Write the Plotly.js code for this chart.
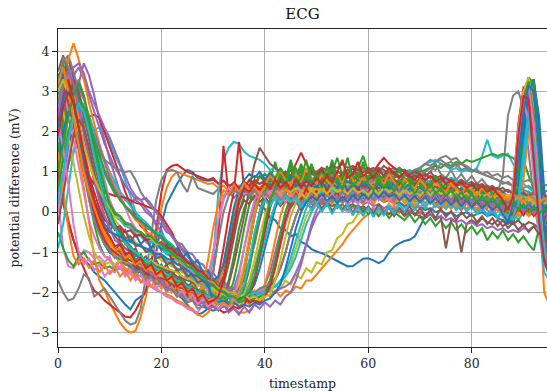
<!DOCTYPE html>
<html>
<head>
<meta charset="utf-8">
<script src="https://cdn.plot.ly/plotly-3.0.1.min.js"></script>
<style>html,body{margin:0;padding:0;background:#fff;}#chart{width:547px;height:391px;}</style>
</head>
<body>
<div id="chart"></div>
<script>
// x: timestamp index of each sample
const timestamps = Array.from({length: 96}, (_, i) => i);

// ECG traces (potential difference, mV)
const ecg00 = [0.8,0.2,-0.3,-0.7,-1.0,-1.2,-1.3,-1.5,-1.6,-1.7,
 -1.85,-2.0,-2.15,-2.3,-2.42,-2.2,-2.1,-2.0,-1.6,-1.0,
 -0.3,0.2,0.45,0.7,0.9,1.05,1.0,0.85,0.8,0.78,
 0.8,0.72,0.78,0.66,0.7,0.58,0.52,0.36,0.33,0.15,
 0.08,-0.14,-0.2,-0.4,-0.45,-0.6,-0.55,-0.74,-0.8,-0.92,
 -0.98,-1.02,-1.08,-1.15,-1.2,-1.28,-1.35,-1.34,-1.25,-1.16,
 -1.15,-1.2,-1.27,-1.2,-1.0,-0.86,-0.78,-0.72,-0.69,-0.6,
 -0.36,-0.1,0.05,0.18,0.1,0.25,0.12,0.3,0.15,0.28,
 0.1,0.35,0.2,0.32,0.15,0.3,0.05,-0.15,0.3,1.5,
 2.8,3.2,2.6,1.0,-0.6,-1.2];
const ecg01 = [3.0,3.6,3.2,2.4,1.5,0.6,-0.3,-1.1,-1.7,-1.95,
 -2.25,-2.5,-2.75,-2.92,-3.0,-2.95,-2.6,-2.1,-1.4,-0.6,
 0.1,0.6,0.88,1.0,0.95,0.9,0.85,0.8,0.75,0.7,
 0.72,0.6,0.66,0.52,0.6,0.45,0.56,0.4,0.52,0.35,
 0.5,0.32,0.55,0.4,0.62,0.45,0.66,0.5,0.42,0.64,
 0.5,0.68,0.45,0.6,0.38,0.55,0.7,0.5,0.45,0.58,
 0.4,0.62,0.35,0.48,0.55,0.3,0.42,0.5,0.28,0.45,
 0.35,0.5,0.28,0.52,0.42,0.25,0.4,0.48,0.22,0.4,
 0.3,0.18,0.42,0.25,0.12,0.3,0.38,0.15,0.28,0.35,
 0.12,0.35,0.2,0.1,0.32,0.15];
const ecg02 = [2.8,3.5,3.3,2.6,1.8,1.0,0.3,-0.3,-0.8,-1.1,
 -1.15,-1.4,-1.2,-1.5,-1.35,-1.6,-1.4,-1.7,-1.5,-1.75,
 -1.6,-1.85,-1.7,-1.95,-1.8,-2.05,-1.95,-2.2,-2.05,-2.25,
 -2.1,-1.8,-1.4,-0.9,-0.3,0.2,0.6,0.8,0.9,0.85,
 0.95,0.8,1.25,0.75,0.85,0.7,1.1,0.75,0.9,0.8,
 0.7,0.85,0.75,1.2,0.65,0.75,0.7,0.8,0.7,0.75,
 0.55,0.78,0.5,0.82,0.6,0.75,0.48,0.7,0.45,0.68,
 0.72,0.4,0.65,0.38,0.62,0.48,0.35,0.66,0.3,0.55,
 0.42,0.3,0.6,0.38,0.25,0.52,0.35,0.2,0.45,0.3,
 0.22,0.5,0.35,0.18,0.4,0.25];
const ecg03 = [1.0,0.4,-0.2,-0.7,-1.1,-1.4,-1.7,-1.95,-2.05,-2.2,
 -2.3,-2.4,-2.5,-2.6,-2.62,-2.45,-2.2,-1.95,-1.3,-0.4,
 0.5,1.05,1.15,1.18,1.1,1.0,0.95,0.9,0.85,0.8,
 0.85,0.7,0.78,0.62,0.74,0.6,0.7,0.52,0.66,0.5,
 0.62,0.45,0.58,0.7,0.5,0.62,0.4,0.6,0.48,0.36,
 0.55,0.48,0.7,0.45,0.6,0.72,0.58,0.5,0.75,0.62,
 0.8,0.65,0.92,0.75,1.0,0.8,0.72,0.95,0.88,0.7,
 0.85,0.68,0.78,0.52,0.7,0.48,0.65,0.42,0.6,0.4,
 0.55,0.35,0.5,0.3,0.45,0.25,0.1,-0.2,0.6,2.0,
 3.0,2.6,1.2,-0.4,-1.2,-1.5];
const ecg04 = [0.2,0.8,1.6,2.5,3.2,3.7,3.4,2.9,2.3,1.8,
 1.3,0.9,0.5,0.3,0.2,0.35,0.3,0.1,-0.05,-0.35,
 -0.45,-0.8,-0.85,-1.2,-1.25,-1.55,-1.6,-1.95,-2.0,-2.25,
 -2.2,-2.42,-2.25,-2.45,-2.3,-2.1,-1.5,-0.8,-0.1,0.4,
 0.7,0.85,0.7,0.95,0.78,0.88,0.65,0.82,0.72,0.6,
 0.68,0.55,0.72,0.5,0.62,0.45,0.64,0.5,0.42,0.55,
 0.45,0.32,0.5,0.3,0.42,0.25,0.45,0.3,0.22,0.35,
 0.28,0.15,0.32,0.18,0.25,0.1,0.3,0.15,0.05,0.22,
 0.1,0.02,0.2,0.05,-0.05,0.12,-0.05,-0.2,-0.3,0.8,
 2.3,3.3,2.9,1.4,-0.2,-0.9];
const ecg05 = [2.5,3.4,3.85,3.3,2.6,1.9,1.3,0.8,0.4,0.1,
 -0.25,-0.35,-0.7,-0.75,-1.0,-0.9,-1.2,-1.1,-1.35,-1.2,
 -1.45,-1.3,-1.6,-1.4,-1.7,-1.55,-1.8,-1.65,-1.95,-1.8,
 -2.05,-1.9,-2.1,-2.0,-2.12,-1.88,-1.7,-1.3,-0.8,-0.2,
 0.3,0.6,0.85,1.05,0.9,1.15,0.92,1.1,0.85,1.05,
 0.82,1.08,0.8,1.0,0.75,0.98,0.7,0.92,0.78,0.65,
 0.88,0.62,0.82,0.58,0.78,0.55,0.72,0.5,0.7,0.48,
 0.65,0.45,0.6,0.42,0.58,0.35,0.55,0.3,0.5,0.32,
 0.48,0.28,0.45,0.22,0.42,0.25,0.4,0.18,0.38,0.2,
 0.35,0.15,0.32,0.2,0.3,0.12];
const ecg06 = [0.3,-0.9,-1.35,-1.4,-1.2,-0.95,-1.0,-1.15,-1.1,-1.25,
 -1.1,-1.45,-1.2,-1.55,-1.3,-1.6,-1.4,-1.75,-1.5,-1.8,
 -1.6,-1.9,-1.75,-2.0,-1.85,-2.15,-1.95,-2.25,-2.0,-1.6,
 -1.0,-0.3,0.3,0.62,0.48,0.66,0.42,0.6,0.35,0.55,
 0.3,0.5,0.38,0.6,0.32,0.52,0.4,0.25,0.5,0.36,
 0.58,0.4,0.62,0.45,0.5,0.68,0.48,0.6,0.75,0.52,
 0.65,0.78,0.55,0.72,0.6,0.8,0.62,0.7,0.55,0.72,
 0.5,0.62,0.45,0.6,0.4,0.55,0.35,0.5,0.3,0.45,
 0.25,0.4,0.2,0.35,0.15,0.3,0.1,0.25,0.05,0.2,
 0.0,0.15,0.2,0.05,0.15,0.0];
const ecg07 = [-1.7,-2.0,-2.2,-2.15,-1.9,-1.55,-1.65,-2.1,-2.0,-1.9,
 -2.1,-2.3,-2.5,-2.7,-2.8,-2.75,-2.4,-1.6,-0.6,0.3,
 0.8,1.0,1.05,1.0,0.7,0.5,0.9,0.6,0.55,0.5,
 0.45,0.58,0.38,0.52,0.35,0.5,0.6,0.4,0.62,0.45,
 0.55,0.38,0.6,0.7,0.45,0.62,0.5,0.75,0.55,0.8,
 0.6,0.78,0.65,0.9,0.7,0.85,0.95,0.72,1.0,0.8,
 0.75,0.95,0.82,0.72,0.9,0.68,0.85,0.98,0.8,1.05,
 1.1,0.88,1.0,1.2,0.95,0.85,1.05,0.8,0.95,0.75,
 0.9,0.7,0.82,0.65,0.6,0.5,0.9,2.4,2.9,3.0,
 2.6,1.5,0.3,-0.5,-0.9,-1.0];
const ecg08 = [1.8,2.6,2.9,2.5,1.9,1.2,0.5,0.0,-0.4,-0.7,
 -0.85,-1.1,-1.0,-1.2,-1.1,-1.35,-1.2,-1.45,-1.3,-1.55,
 -1.4,-1.65,-1.5,-1.75,-1.6,-1.85,-1.75,-1.95,-1.9,-2.1,
 -2.0,-2.2,-2.1,-2.25,-2.1,-2.2,-2.05,-2.15,-1.95,-2.05,
 -1.9,-2.0,-1.8,-1.9,-1.7,-1.8,-1.55,-1.65,-1.4,-1.5,
 -1.25,-1.3,-1.0,-0.95,-0.65,-0.55,-0.3,-0.25,-0.05,0.0,
 0.1,0.02,0.18,0.05,0.22,0.08,0.25,0.12,0.3,0.15,
 0.32,0.18,0.35,0.15,0.3,0.1,0.28,0.12,0.25,0.05,
 0.22,0.08,0.3,0.12,0.25,0.05,0.2,0.0,0.18,0.05,
 0.15,0.0,0.12,-0.05,0.1,-0.02];
const ecg09 = [0.5,0.9,1.2,1.5,1.7,1.85,1.95,2.05,2.1,2.0,
 1.75,1.4,1.15,0.8,0.4,0.0,-0.3,-0.5,-0.7,-0.8,
 -0.9,-1.05,-1.1,-1.3,-1.25,-1.45,-1.5,-1.7,-1.65,-1.75,
 -1.2,0.5,1.3,1.6,1.75,1.7,1.5,1.4,1.35,1.3,
 1.2,1.05,1.1,0.9,1.0,0.8,0.95,0.75,0.88,0.7,
 0.85,0.65,0.78,0.6,0.75,0.55,0.7,0.5,0.65,0.45,
 0.6,0.42,0.55,0.38,0.5,0.35,0.45,0.3,0.42,0.25,
 0.38,0.22,0.35,0.18,0.3,0.12,0.25,0.1,0.2,0.05,
 0.15,-0.02,0.12,-0.08,0.1,-0.12,0.05,-0.15,0.0,-0.2,
 0.0,0.2,0.1,-0.3,-1.0,-1.5];
const ecg10 = [3.2,3.55,3.6,3.0,2.3,1.5,0.9,0.3,-0.2,-0.5,
 -0.65,-0.95,-0.8,-1.1,-0.95,-1.2,-1.05,-1.35,-1.15,-1.45,
 -1.3,-1.55,-1.45,-1.75,-1.6,-1.85,-1.75,-1.95,-1.9,-2.15,
 -2.2,-2.15,-2.3,-2.25,-2.2,-2.1,-2.15,-2.0,-1.8,-1.4,
 -0.9,-0.4,0.1,0.4,0.6,0.7,0.65,0.75,0.7,0.8,
 0.9,0.6,0.85,0.55,0.9,0.62,0.5,0.78,0.55,0.48,
 0.7,0.45,0.62,0.38,0.6,0.72,0.4,0.35,0.62,0.42,
 0.3,0.55,0.28,0.5,0.22,0.45,0.18,0.4,0.5,0.25,
 0.35,0.25,0.3,0.2,0.25,0.15,0.1,-0.1,-0.3,0.2,
 1.6,3.0,3.3,2.2,0.3,-1.0];
const ecg11 = [1.5,2.2,2.7,2.4,1.8,1.2,0.6,0.1,-0.3,-0.6,
 -0.75,-1.0,-0.95,-1.2,-1.1,-1.35,-1.25,-1.45,-1.4,-1.6,
 -1.5,-1.7,-1.6,-1.8,-1.7,-1.9,-1.8,-2.0,-1.9,-2.1,
 -2.0,-2.2,-2.1,-2.3,-2.15,-2.35,-2.2,-2.3,-2.1,-2.2,
 -2.0,-2.1,-1.95,-2.1,-1.95,-2.0,-1.85,-1.9,-1.7,-1.7,
 -1.55,-1.4,-1.25,-1.1,-0.95,-0.8,-0.6,-0.45,-0.3,-0.15,
 -0.05,0.05,-0.1,0.08,-0.05,0.12,-0.02,0.15,0.0,0.1,
 -0.05,0.15,0.02,0.2,0.05,0.25,0.08,0.22,0.1,0.28,
 0.12,0.25,0.05,0.22,0.0,0.18,0.1,-0.05,0.15,0.0,
 0.12,-0.05,0.1,-0.1,-0.15,-0.25];
const ecg12 = [-0.5,-0.9,-1.2,-1.35,-1.1,-1.0,-1.2,-1.3,-1.25,-1.4,
 -1.35,-1.45,-1.4,-1.5,-1.45,-1.55,-1.6,-1.65,-1.6,-1.75,
 -1.8,-1.85,-1.8,-1.95,-2.0,-2.1,-2.05,-2.2,-2.15,-2.3,
 -2.25,-2.3,-2.1,-1.7,-1.1,-0.4,0.1,0.4,0.3,0.5,
 0.35,0.45,0.3,0.5,0.35,0.4,0.25,0.45,0.3,0.35,
 0.2,0.3,0.15,0.25,0.1,0.2,0.05,0.15,0.0,0.1,
 -0.05,0.1,-0.1,0.05,-0.15,0.0,-0.1,-0.2,-0.05,-0.25,
 -0.1,-0.3,-0.15,-0.35,-0.2,-0.4,-0.25,-0.45,-0.3,-0.5,
 -0.35,-0.55,-0.4,-0.7,-0.5,-0.65,-0.45,-0.7,-0.55,-0.75,
 -0.6,-0.8,-0.95,-0.4,-0.2,0.1];
const ecg13 = [0.8,1.3,1.7,2.0,2.15,2.25,2.38,2.42,2.35,2.0,
 1.6,1.3,0.9,0.5,0.2,-0.1,-0.35,-0.45,-0.7,-0.65,
 -0.95,-0.85,-1.2,-1.1,-1.45,-1.35,-1.65,-1.55,-1.85,-1.8,
 -1.95,-1.6,-0.9,-0.1,0.5,1.75,0.6,0.8,0.7,0.9,
 0.75,0.95,0.62,0.88,1.0,0.7,0.92,0.6,0.85,0.7,
 0.62,0.85,0.55,0.8,0.62,0.5,0.75,0.58,0.45,0.65,
 0.42,0.62,0.48,0.35,0.55,0.6,0.38,0.52,0.3,0.48,
 0.28,0.45,0.35,0.2,0.42,0.3,0.18,0.25,0.38,0.22,
 0.15,0.32,0.12,0.25,0.05,0.2,0.02,0.15,-0.05,0.1,
 -0.08,0.1,0.0,-0.15,0.02,-0.1];
const ecg14 = [1.2,2.0,2.8,3.4,3.6,3.3,2.9,2.5,2.1,1.7,
 1.4,1.1,0.9,0.65,0.5,0.3,0.2,0.0,-0.1,-0.25,
 -0.3,-0.5,-0.55,-0.75,-0.8,-1.0,-1.05,-1.25,-1.3,-1.5,
 -1.5,-1.7,-1.7,-1.9,-1.9,-2.05,-2.0,-2.15,-2.1,-2.0,
 -1.8,-1.5,-1.0,-0.5,0.0,0.3,0.5,0.55,0.5,0.6,
 0.55,0.65,0.6,0.5,0.6,0.55,0.65,0.5,0.6,0.55,
 0.6,0.5,0.55,0.45,0.5,0.55,0.4,0.5,0.45,0.35,
 0.45,0.4,0.3,0.35,0.4,0.3,0.25,0.35,0.2,0.3,
 0.25,0.2,0.3,0.15,0.25,0.1,-0.1,-0.25,0.4,1.8,
 3.0,3.35,2.5,1.0,-0.5,-1.0];
const ecg15 = [2.6,3.3,3.8,3.4,2.8,2.1,1.4,0.8,0.3,-0.1,
 -0.4,-0.6,-0.75,-0.9,-1.0,-1.05,-1.15,-1.2,-1.3,-1.35,
 -1.4,-1.45,-1.5,-1.6,-1.65,-1.7,-1.75,-1.8,-1.85,-1.9,
 -1.95,-2.0,-1.95,-2.05,-2.0,-2.1,-2.05,-2.0,-2.05,-1.95,
 -1.9,-1.85,-1.7,-1.4,-1.0,-0.5,-0.1,0.2,0.3,0.25,
 0.3,0.2,0.25,0.15,0.2,0.1,0.15,0.2,0.1,0.15,
 0.05,0.1,0.0,0.05,-0.05,0.0,0.05,-0.1,0.0,-0.05,
 -0.1,-0.15,-0.05,-0.2,-0.1,-0.9,-0.2,-0.25,-1.0,-0.3,
 -0.2,-0.3,-0.15,-0.25,-0.3,-0.2,-0.35,-0.25,-0.3,-0.2,
 -0.35,-0.25,-0.3,-0.4,-0.3,-0.35];
const ecg16 = [0.4,0.9,1.3,1.55,1.7,1.75,1.72,1.65,1.5,1.3,
 1.0,0.7,0.4,0.1,-0.2,-0.4,-0.6,-0.75,-0.85,-1.0,
 -1.05,-1.25,-1.25,-1.45,-1.4,-1.65,-1.6,-1.85,-1.75,-1.95,
 -1.9,-2.15,-2.1,-2.3,-2.2,-2.25,-1.9,-1.4,-0.7,0.0,
 0.4,0.6,0.5,0.65,0.55,0.7,0.6,0.65,0.5,0.6,
 0.55,0.65,0.5,0.6,0.7,0.6,0.65,0.75,0.7,0.8,
 0.75,0.8,0.7,0.85,0.75,0.8,0.7,0.75,0.8,0.7,
 0.75,0.7,0.8,0.65,0.75,0.7,0.6,0.7,0.65,0.6,
 0.65,0.55,0.6,0.5,0.55,0.45,0.5,0.3,0.1,0.9,
 2.4,2.9,2.0,0.5,-0.8,-1.3];
const ecg17 = [3.0,3.75,3.9,3.5,3.0,2.5,2.0,1.6,1.25,0.95,
 0.7,0.45,0.35,0.15,0.05,-0.15,-0.2,-0.4,-0.45,-0.6,
 -0.65,-0.85,-0.9,-1.1,-1.15,-1.35,-1.4,-1.6,-1.65,-1.8,
 -1.85,-2.0,-1.95,-2.1,-2.05,-2.15,-2.0,-1.8,-1.4,-0.9,
 -0.3,0.2,0.5,0.7,0.8,0.85,0.8,0.9,0.85,0.95,
 0.9,1.0,0.95,0.9,1.0,0.95,1.05,1.0,0.95,1.1,
 1.0,1.05,0.95,1.0,0.9,0.95,1.0,0.9,0.95,0.85,
 1.1,1.2,1.3,1.25,1.35,1.4,1.3,1.35,1.2,1.15,
 1.05,1.0,0.95,0.9,0.85,0.8,0.7,0.75,0.65,0.7,
 0.6,0.65,0.55,0.6,0.5,0.55];
const ecg18 = [2.4,3.0,2.7,2.2,1.6,1.0,0.5,0.0,-0.4,-0.7,
 -0.8,-1.05,-1.05,-1.2,-1.2,-1.35,-1.35,-1.5,-1.45,-1.6,
 -1.55,-1.75,-1.7,-1.85,-1.8,-1.95,-1.9,-2.05,-2.0,-2.15,
 -2.1,-2.25,-2.1,-2.3,-2.15,-2.2,-2.05,-2.1,-1.95,-2.0,
 -1.95,-1.9,-1.85,-1.75,-1.6,-1.3,-0.9,-0.5,-0.1,0.1,
 0.2,0.25,0.3,0.2,0.3,0.25,0.35,0.3,0.25,0.35,
 0.3,0.35,0.4,0.3,0.35,0.4,0.35,0.3,0.4,0.35,
 0.4,0.35,0.3,0.4,0.35,0.3,0.35,0.4,0.3,0.35,
 0.3,0.35,0.25,0.3,0.35,0.25,0.3,0.2,0.25,0.3,
 0.2,0.25,0.3,0.2,0.25,0.2];
const ecg19 = [1.0,1.8,2.5,2.9,2.75,2.5,2.2,1.9,1.6,1.3,
 1.0,0.75,0.5,0.35,0.15,0.0,-0.15,-0.25,-0.4,-0.5,
 -0.55,-0.7,-0.8,-0.95,-1.05,-1.2,-1.3,-1.45,-1.55,-1.7,
 -1.75,-1.9,-1.95,-2.1,-2.05,-2.15,-2.05,-1.9,-1.6,-1.2,
 -0.7,-0.2,0.2,0.5,0.6,0.55,0.65,0.6,0.7,0.65,
 0.7,0.75,0.7,0.8,0.85,0.8,0.9,0.85,0.95,0.9,
 1.0,0.95,1.05,1.0,0.95,1.05,1.1,1.0,1.05,0.95,
 1.1,1.2,1.25,1.3,1.2,1.15,1.05,1.1,1.0,1.05,
 1.0,1.1,1.4,1.8,1.4,1.35,1.4,1.45,1.2,1.0,
 0.7,0.6,0.5,0.4,0.3,0.2];
const ecg20 = [2.9,3.5,3.2,2.6,1.9,1.2,0.5,-0.1,-0.5,-0.8,
 -1.0,-1.1,-1.2,-1.25,-1.35,-1.4,-1.5,-1.55,-1.6,-1.7,
 -1.75,-1.85,-1.95,-2.05,-2.15,-2.3,-2.45,-2.55,-2.5,-2.4,
 -2.2,-1.85,-1.3,-0.7,-0.1,0.3,0.5,0.6,0.65,0.6,
 0.7,0.65,0.75,0.6,0.7,0.8,0.65,0.75,0.7,0.6,
 0.65,0.55,0.6,0.5,0.55,0.45,0.5,0.4,0.45,0.35,
 0.4,0.3,0.35,0.25,0.3,0.2,0.25,0.15,0.2,0.1,
 0.15,0.05,0.1,0.0,0.05,-0.05,0.0,-0.1,-0.05,0.0,
 -0.1,-0.05,0.0,-0.1,-0.05,-0.15,-0.2,-0.3,-0.1,0.8,
 2.2,3.2,3.3,1.8,-0.2,-1.2];
const ecg21 = [2.0,3.0,3.8,4.2,3.8,3.3,2.7,2.2,1.7,1.3,
 0.95,0.6,0.4,0.15,0.0,-0.2,-0.3,-0.5,-0.55,-0.7,
 -0.8,-0.95,-1.05,-1.2,-1.3,-1.45,-1.55,-1.7,-1.8,-1.95,
 -2.0,-2.15,-2.2,-2.3,-2.4,-2.5,-2.5,-2.45,-2.3,-2.1,
 -1.8,-1.3,-0.7,-0.1,0.3,0.5,0.6,0.55,0.65,0.6,
 0.55,0.6,0.5,0.55,0.6,0.5,0.55,0.45,0.5,0.55,
 0.5,0.45,0.55,0.5,0.4,0.5,0.45,0.55,0.5,0.45,
 0.5,0.4,0.45,0.5,0.4,0.45,0.35,0.4,0.45,0.35,
 0.4,0.35,0.45,0.3,0.4,0.35,0.3,0.35,0.25,0.3,
 0.35,0.25,0.3,0.2,0.25,0.15];
const ecg22 = [3.3,3.7,3.1,2.4,1.7,1.0,0.4,-0.1,-0.5,-0.8,
 -1.0,-1.1,-1.2,-1.3,-1.35,-1.45,-1.5,-1.6,-1.65,-1.7,
 -1.8,-1.85,-1.9,-2.0,-2.05,-2.1,-2.15,-2.2,-2.25,-2.3,
 -2.35,-2.4,-2.3,-2.1,-1.7,-1.1,-0.4,0.2,0.6,0.9,
 0.8,1.0,0.85,1.1,0.9,1.05,0.85,1.2,0.9,1.0,
 0.85,1.1,0.9,1.0,1.35,0.9,1.05,0.95,1.1,1.4,
 1.0,0.95,1.05,0.9,1.0,0.95,1.1,1.0,0.95,1.05,
 1.0,1.05,1.1,1.15,1.1,1.2,1.15,1.25,1.2,1.3,
 1.25,1.3,1.35,1.4,1.45,1.4,1.45,1.4,1.35,1.2,
 1.3,0.9,0.6,0.3,0.2,0.1];
const ecg23 = [2.0,2.4,2.3,2.0,1.6,1.2,0.9,0.7,0.6,0.5,
 0.45,0.4,0.38,0.36,0.3,0.23,0.2,0.15,0.1,0.05,
 -0.1,-0.3,-0.5,-0.8,-1.1,-1.4,-1.6,-1.75,-1.85,-1.9,
 -1.5,-0.6,1.65,0.4,0.7,0.6,0.75,0.65,0.8,0.7,
 0.75,0.65,0.8,0.7,0.75,0.6,0.7,0.65,0.75,0.7,
 0.8,0.7,0.85,0.75,0.9,0.8,0.95,1.1,0.9,1.0,
 1.1,1.0,1.2,1.35,1.2,1.1,1.0,1.05,0.95,1.0,
 0.9,0.95,0.85,0.9,0.8,0.85,0.75,0.8,0.7,0.75,
 0.65,0.7,0.6,0.55,0.5,0.4,0.2,-0.1,0.5,2.2,
 3.1,3.0,1.6,0.0,-1.1,-1.6];
const ecg24 = [1.5,2.4,3.0,3.3,3.1,2.8,2.4,2.0,1.6,1.2,
 0.85,0.55,0.35,0.15,0.0,-0.1,-0.25,-0.3,-0.45,-0.55,
 -0.65,-0.75,-0.9,-1.0,-1.15,-1.25,-1.4,-1.5,-1.65,-1.8,
 -1.85,-2.0,-2.1,-2.15,-2.2,-2.1,-2.15,-2.05,-2.1,-2.0,
 -2.0,-1.95,-2.0,-1.9,-1.85,-1.75,-1.5,-1.2,-0.8,-0.4,
 -0.1,0.1,0.25,0.3,0.35,0.3,0.4,0.35,0.45,0.4,
 0.45,0.4,0.5,0.45,0.4,0.5,0.45,0.55,0.5,0.45,
 0.5,0.45,0.55,0.5,0.6,0.55,0.5,0.6,0.55,0.5,
 0.55,0.5,0.45,0.55,0.5,0.45,0.5,0.4,0.45,0.4,
 0.45,0.4,0.35,0.45,0.4,0.35];
const ecg25 = [3.5,3.9,3.4,2.7,2.0,1.3,0.7,0.2,-0.2,-0.5,
 -0.7,-0.9,-1.0,-1.15,-1.2,-1.3,-1.4,-1.45,-1.5,-1.6,
 -1.65,-1.7,-1.8,-1.85,-1.9,-1.95,-2.0,-2.05,-2.1,-2.15,
 -2.2,-2.1,-1.8,-1.3,-0.6,0.0,0.4,0.6,0.75,0.7,
 0.8,0.75,0.85,0.8,0.9,0.85,0.95,0.9,0.85,0.95,
 0.9,1.0,0.95,1.05,1.0,0.95,1.0,1.1,1.05,1.0,
 1.05,1.1,1.0,1.15,1.05,1.1,1.0,1.05,0.95,1.0,
 0.95,0.9,1.0,0.85,0.9,0.8,0.85,0.75,0.8,0.7,
 0.75,0.65,0.7,0.6,0.65,0.55,0.6,0.5,0.55,0.45,
 0.5,0.4,0.45,0.35,0.4,0.3];
const ecg26 = [0.0,0.6,1.3,2.0,2.5,2.7,2.4,1.9,1.3,0.8,
 0.3,0.0,-0.15,-0.3,-0.35,-0.5,-0.5,-0.65,-0.7,-0.8,
 -0.85,-0.95,-1.05,-1.15,-1.25,-1.4,-1.5,-1.65,-1.75,-1.9,
 -2.15,-2.2,-2.25,-2.3,-2.25,-2.2,-2.15,-2.1,-2.0,-1.95,
 -1.9,-1.7,-1.3,-0.8,-0.3,0.1,0.35,0.5,0.45,0.55,
 0.5,0.6,0.55,0.65,0.5,0.6,0.55,0.5,0.6,0.5,
 0.55,0.45,0.5,0.6,0.5,0.55,0.65,0.55,0.6,0.7,
 0.6,0.65,0.75,0.65,0.7,0.8,0.7,0.75,0.65,0.7,
 0.6,0.65,0.55,0.6,0.5,0.4,0.3,0.1,0.7,2.1,
 3.0,2.7,1.4,0.0,-1.2,-1.6];
const ecg27 = [3.0,3.85,3.6,3.1,2.7,2.3,2.0,1.75,1.5,1.3,
 1.2,1.1,1.05,1.0,1.02,0.8,0.5,0.3,0.15,0.0,
 -0.2,-0.4,-0.6,-0.75,-0.9,-1.05,-1.2,-1.35,-1.45,-1.55,
 -1.65,-1.7,-1.8,-1.85,-1.9,-1.8,-1.6,-1.2,-0.6,0.0,
 0.4,0.6,0.7,0.65,0.75,0.7,0.8,0.75,0.85,0.8,
 0.85,0.8,0.9,0.85,0.8,0.9,0.85,0.95,0.9,0.85,
 0.9,0.95,0.85,0.9,0.8,0.85,0.9,0.8,0.85,0.95,
 0.9,1.0,1.1,1.05,1.2,1.15,1.1,1.2,1.05,1.1,
 1.0,1.05,0.95,1.0,0.9,0.95,0.85,0.9,0.8,0.85,
 0.75,0.8,0.7,0.75,0.65,0.7];
const ecg28 = [2.8,3.2,3.0,2.6,2.2,1.7,1.3,0.9,0.5,0.2,
 0.0,-0.2,-0.35,-0.5,-0.6,-0.75,-0.85,-0.95,-1.05,-1.1,
 -1.2,-1.25,-1.35,-1.4,-1.5,-1.55,-1.65,-1.7,-1.8,-1.85,
 -1.9,-2.0,-2.05,-2.1,-2.05,-1.8,-1.3,-0.6,0.1,0.5,
 0.65,0.7,0.75,0.7,0.72,0.75,0.7,0.73,0.7,0.75,
 0.72,0.7,0.75,0.7,0.72,0.68,0.7,0.75,0.7,0.72,
 0.68,0.7,0.65,0.7,0.62,0.66,0.6,0.65,0.6,0.62,
 0.58,0.6,0.55,0.6,0.55,0.5,0.55,0.5,0.52,0.48,
 0.5,0.45,0.5,0.45,0.42,0.45,0.4,0.42,0.38,0.4,
 0.38,0.35,0.4,0.35,0.38,0.35];
const ecg29 = [-0.9,-0.3,0.6,1.5,2.2,2.6,2.4,1.9,1.3,0.7,
 0.1,-0.1,-0.2,-0.35,-0.4,-0.55,-0.6,-0.7,-0.75,-0.85,
 -0.9,-1.0,-1.05,-1.15,-1.25,-1.35,-1.45,-1.55,-1.65,-1.75,
 -1.8,-1.9,-1.95,-2.05,-2.1,-2.2,-2.15,-2.1,-2.0,-2.05,
 -1.95,-1.9,-1.85,-1.75,-1.6,-1.4,-1.1,-0.7,-0.3,0.0,
 0.2,0.3,0.25,0.35,0.3,0.4,0.35,0.45,0.4,0.5,
 0.45,0.55,0.5,0.6,0.55,0.65,0.6,0.7,0.65,0.75,
 0.7,0.8,0.75,0.85,0.8,0.75,0.85,0.8,0.7,0.75,
 0.65,0.7,0.6,0.65,0.55,0.6,0.5,0.55,0.45,0.5,
 0.4,0.45,0.35,0.4,0.3,0.35];
const ecg30 = [3.4,3.55,3.0,2.3,1.6,1.0,0.4,-0.1,-0.5,-0.8,
 -1.0,-1.1,-1.2,-1.3,-1.35,-1.45,-1.5,-1.6,-1.65,-1.75,
 -1.8,-1.85,-1.95,-2.0,-2.1,-2.15,-2.2,-2.3,-2.35,-2.4,
 -2.45,-2.4,-2.35,-2.3,-2.2,-2.0,-1.5,-0.8,-0.1,0.4,
 0.6,0.7,0.65,0.75,0.7,0.8,0.75,0.7,0.8,0.75,
 0.7,0.8,0.75,0.85,0.7,0.8,0.75,0.7,0.8,0.75,
 0.7,0.65,0.75,0.7,0.6,0.7,0.65,0.6,0.7,0.65,
 0.6,0.55,0.65,0.6,0.5,0.6,0.55,0.5,0.6,0.5,
 0.45,0.55,0.5,0.4,0.45,0.35,0.2,0.0,-0.2,0.6,
 2.0,2.9,3.25,2.4,0.6,-0.8];
const ecg31 = [2.2,3.0,3.4,3.0,2.3,1.6,0.9,0.3,-0.2,-0.6,
 -0.9,-1.1,-1.25,-1.4,-1.5,-1.6,-1.7,-1.75,-1.85,-1.9,
 -2.0,-2.05,-2.1,-2.2,-2.25,-2.35,-2.4,-2.55,-2.6,-2.5,
 -2.3,-1.9,-1.3,-0.6,0.0,0.4,0.6,0.55,0.7,0.6,
 0.65,0.55,0.7,0.6,0.55,0.65,0.6,0.5,0.6,0.55,
 0.5,0.6,0.55,0.45,0.55,0.5,0.4,0.5,0.45,0.4,
 0.45,0.35,0.4,0.3,0.35,0.4,0.3,0.35,0.25,0.3,
 0.25,0.35,0.2,0.3,0.25,0.2,0.3,0.15,0.25,0.2,
 0.15,0.2,0.1,0.2,0.15,0.1,0.0,-0.1,-0.2,0.0,
 0.8,2.0,2.8,0.4,-2.0,-2.3];
const ecg32 = [1.5,2.3,2.9,3.1,2.9,2.6,2.2,1.8,1.4,1.05,
 0.75,0.5,0.3,0.15,0.0,-0.15,-0.2,-0.35,-0.4,-0.55,
 -0.6,-0.75,-0.85,-1.0,-1.1,-1.25,-1.35,-1.5,-1.6,-1.75,
 -1.8,-1.95,-2.0,-2.1,-2.1,-2.25,-2.2,-2.2,-2.15,-2.1,
 -2.0,-1.7,-1.2,-0.6,0.0,0.4,0.7,1.1,0.8,1.2,
 0.85,1.0,0.8,1.3,0.9,0.85,1.0,0.8,0.95,0.85,
 0.9,0.8,0.95,0.75,0.85,0.8,0.7,0.85,0.75,0.8,
 0.7,0.75,0.65,0.8,0.7,0.6,0.75,0.65,0.7,0.6,
 0.55,0.65,0.5,0.6,0.45,0.5,0.3,0.0,-0.1,1.0,
 2.6,3.35,3.2,1.6,-0.3,-1.1];
const ecg33 = [2.5,3.1,2.8,2.2,1.6,1.0,0.5,0.0,-0.4,-0.7,
 -0.9,-1.0,-1.1,-1.2,-1.3,-1.35,-1.45,-1.5,-1.6,-1.65,
 -1.7,-1.8,-1.85,-1.9,-2.0,-2.05,-2.1,-2.2,-2.25,-2.3,
 -2.35,-2.4,-2.5,-2.45,-2.35,-2.4,-2.3,-2.1,-1.7,-1.1,
 -0.5,0.1,0.5,0.8,1.0,0.9,1.2,1.48,1.2,1.0,
 0.95,1.05,0.9,1.0,0.85,0.95,0.9,0.8,0.9,0.85,
 0.8,0.9,0.85,0.75,0.85,0.8,0.7,0.8,0.75,0.7,
 0.75,0.65,0.7,0.6,0.65,0.55,0.6,0.5,0.55,0.45,
 0.5,0.4,0.45,0.35,0.4,0.3,0.2,0.0,0.3,1.7,
 2.9,3.3,2.7,1.0,-0.7,-1.3];
const ecg34 = [2.0,2.8,3.3,3.6,3.7,3.45,3.0,2.7,2.4,2.1,
 1.85,1.5,1.2,0.9,0.6,0.4,0.3,0.35,0.2,0.0,
 -0.2,-0.4,-0.6,-0.8,-0.95,-1.1,-1.25,-1.4,-1.55,-1.7,
 -1.8,-1.9,-2.0,-2.05,-1.9,-1.5,-0.9,-0.3,0.2,0.5,
 0.6,0.55,0.65,0.5,0.6,0.55,0.5,0.6,0.5,0.45,
 0.5,0.4,0.45,0.35,0.4,0.3,0.35,0.25,0.3,0.2,
 0.25,0.15,0.2,0.1,0.15,0.05,0.1,0.0,0.05,-0.05,
 0.0,-0.1,-0.05,-0.15,-0.1,-0.2,-0.15,-0.25,-0.2,-0.3,
 -0.25,-0.35,-0.3,-0.4,-0.35,-0.45,-0.4,-0.5,-0.45,-0.5,
 -0.4,-0.45,-0.35,-0.4,-0.3,-0.35];
const ecg35 = [1.0,1.9,2.7,3.3,3.0,2.4,1.8,1.2,0.7,0.3,
 0.0,-0.3,-0.5,-0.7,-0.85,-1.0,-1.1,-1.2,-1.3,-1.35,
 -1.45,-1.5,-1.6,-1.65,-1.75,-1.8,-1.9,-1.95,-2.0,-2.1,
 -2.15,-2.2,-2.1,-1.8,-1.3,-0.7,-0.1,0.6,1.2,1.6,
 1.4,1.2,1.1,1.0,0.95,1.05,0.9,1.0,0.95,1.05,
 1.0,1.1,1.05,1.15,1.1,1.2,1.1,1.15,1.05,1.1,
 1.05,1.0,1.1,1.05,0.95,1.0,0.9,0.95,0.85,0.9,
 0.85,0.8,0.9,0.8,0.75,0.85,0.75,0.7,0.8,0.7,
 0.65,0.7,0.6,0.65,0.55,0.6,0.5,0.55,0.45,0.5,
 0.45,0.4,0.5,0.4,0.45,0.35];
const ecg36 = [2.6,3.0,2.5,1.8,1.1,0.4,-0.2,-0.6,-0.9,-1.1,
 -1.2,-1.3,-1.4,-1.5,-1.55,-1.65,-1.7,-1.8,-1.85,-1.95,
 -2.0,-2.1,-2.15,-2.25,-2.3,-2.4,-2.45,-2.5,-2.3,-1.8,
 -1.0,-0.2,0.4,0.6,0.5,0.55,0.45,0.5,0.4,0.45,
 0.35,0.4,0.3,0.35,0.25,0.3,0.2,0.25,0.15,0.2,
 0.15,0.1,0.2,0.05,0.15,0.1,0.0,0.1,0.05,0.0,
 0.05,0.1,0.0,0.05,0.1,0.15,0.05,0.1,0.15,0.2,
 0.15,0.2,0.25,0.15,0.2,0.3,0.2,0.25,0.3,0.2,
 0.25,0.2,0.3,0.25,0.2,0.1,-0.1,-0.2,0.5,1.9,
 2.8,2.2,0.8,-0.6,-1.3,-1.5];
const ecg37 = [0.5,1.5,2.4,3.0,3.3,2.9,2.3,1.7,1.1,0.6,
 0.2,0.0,-0.1,-0.25,-0.3,-0.45,-0.5,-0.6,-0.65,-0.75,
 -0.8,-0.9,-0.95,-1.05,-1.1,-1.2,-1.3,-1.4,-1.5,-1.6,
 -1.65,-1.75,-1.85,-1.95,-1.9,-2.0,-1.95,-1.95,-2.0,-1.9,
 -1.85,-1.8,-1.65,-1.4,-1.0,-0.5,-0.1,0.2,0.4,0.5,
 0.45,0.55,0.5,0.6,0.55,0.65,0.6,0.7,0.65,0.75,
 0.7,0.8,0.75,0.85,0.8,0.9,0.85,0.95,1.0,1.05,
 1.1,1.2,1.15,1.25,1.3,1.2,1.25,1.15,1.2,1.1,
 1.05,1.0,0.95,0.9,0.85,0.8,0.75,0.7,0.65,0.6,
 0.55,0.5,0.45,0.4,0.35,0.3];
const ecg38 = [2.9,2.5,1.9,1.2,0.5,-0.1,-0.6,-1.0,-1.2,-1.3,
 -1.25,-1.3,-1.2,-1.25,-1.3,-1.2,-1.25,-1.3,-1.2,-1.3,
 -1.35,-1.4,-1.45,-1.5,-1.6,-1.65,-1.7,-1.8,-1.85,-1.9,
 -1.95,-2.0,-2.05,-2.1,-2.15,-2.1,-2.0,-1.7,-1.2,-0.6,
 -0.1,0.3,0.45,0.5,0.55,0.5,0.6,0.55,0.5,0.6,
 0.55,0.5,0.6,0.5,0.55,0.45,0.5,0.55,0.45,0.5,
 0.45,0.5,0.4,0.45,0.5,0.4,0.45,0.35,0.4,0.45,
 0.35,0.4,0.3,0.35,0.4,0.3,0.35,0.25,0.3,0.35,
 0.25,0.3,0.2,0.25,0.3,0.2,0.15,0.0,0.5,2.0,
 3.0,3.35,2.6,1.0,-0.6,-1.2];
const ecg39 = [1.8,2.7,3.1,2.7,2.1,1.4,0.8,0.3,-0.1,-0.4,
 -0.45,-0.55,-0.6,-0.7,-0.75,-0.8,-0.85,-0.95,-1.0,-1.1,
 -1.1,-1.2,-1.3,-1.4,-1.45,-1.55,-1.65,-1.75,-1.8,-1.9,
 -2.05,-2.1,-2.15,-2.1,-2.2,-2.15,-2.1,-2.05,-2.0,-2.05,
 -2.0,-1.95,-1.85,-1.7,-1.5,-1.15,-0.7,-0.3,0.1,0.3,
 0.45,0.5,0.4,0.55,0.45,0.5,0.6,0.5,0.55,0.45,
 0.5,0.55,0.45,0.5,0.4,0.45,0.5,0.4,0.45,0.35,
 0.4,0.45,0.35,0.4,0.3,0.35,0.4,0.3,0.35,0.25,
 0.3,0.35,0.25,0.3,0.2,0.25,0.1,-0.1,-0.2,0.3,
 1.5,2.5,1.3,-0.3,-1.5,-1.7];
const ecg40 = [1.2,2.0,2.5,2.3,1.8,1.2,0.7,0.3,0.0,-0.3,
 -0.45,-0.3,-0.6,-0.45,-0.75,-0.55,-0.8,-0.65,-0.9,-0.7,
 -0.95,-0.8,-1.05,-0.9,-1.15,-1.0,-1.3,-1.2,-1.5,-1.45,
 -1.7,-1.6,-1.3,-0.6,0.1,0.55,0.8,0.95,0.85,1.0,
 0.82,0.95,0.75,0.9,0.7,0.88,0.65,0.85,0.6,0.8,
 0.65,0.78,0.55,0.72,0.6,0.8,0.52,0.7,0.58,0.75,
 0.62,0.5,0.7,0.55,0.68,0.48,0.62,0.45,0.6,0.5,
 0.4,0.58,0.45,0.62,0.4,0.55,0.35,0.5,0.3,0.48,
 0.32,0.45,0.25,0.4,0.2,0.35,0.15,0.3,0.1,0.25,
 0.08,0.2,0.05,0.15,0.0,0.1];
const ecg41 = [1.5,0.6,-0.4,-1.1,-1.3,-1.15,-1.4,-1.2,-1.5,-1.3,
 -1.55,-1.35,-1.6,-1.45,-1.7,-1.5,-1.75,-1.6,-1.85,-1.7,
 -1.9,-1.75,-2.0,-1.85,-2.1,-1.95,-2.2,-2.1,-1.8,-1.2,
 -0.4,0.2,0.55,0.45,0.68,0.5,0.72,0.55,0.62,0.45,
 0.6,0.42,0.55,0.38,0.58,0.4,0.52,0.35,0.5,0.3,
 0.45,0.28,0.5,0.3,0.42,0.25,0.48,0.3,0.4,0.22,
 0.38,0.2,0.42,0.25,0.35,0.18,0.4,0.22,0.32,0.15,
 0.3,0.12,0.35,0.18,0.28,0.1,0.32,0.15,0.25,0.08,
 0.22,0.05,0.25,0.1,0.2,0.02,0.15,-0.05,0.1,-0.1,
 0.05,-0.1,0.0,-0.15,-0.05,-0.2];
const ecg42 = [0.6,1.3,2.0,2.5,2.8,2.6,2.1,1.5,0.9,0.4,
 0.0,-0.35,-0.45,-0.8,-0.85,-1.1,-1.05,-1.3,-1.25,-1.45,
 -1.4,-1.6,-1.55,-1.75,-1.7,-1.9,-1.85,-2.0,-1.95,-2.1,
 -2.05,-2.2,-2.1,-2.25,-2.15,-2.2,-1.9,-1.4,-0.7,0.0,
 0.5,0.8,0.7,1.05,0.8,1.3,0.85,1.0,0.75,1.15,
 0.8,0.95,0.7,1.1,0.75,0.9,1.35,0.8,0.95,0.7,
 0.85,1.0,0.75,0.9,0.65,0.85,1.05,0.7,0.82,0.6,
 0.78,0.55,0.72,0.9,0.6,0.7,0.5,0.68,0.45,0.62,
 0.4,0.58,0.35,0.5,0.3,0.45,0.2,-0.05,0.2,1.5,
 2.7,3.25,2.4,0.8,-0.8,-1.4];
const ecg43 = [2.2,2.9,3.3,2.8,2.1,1.5,0.9,0.5,0.1,-0.2,
 -0.3,-0.4,-0.35,-0.5,-0.45,-0.6,-0.55,-0.7,-0.65,-0.8,
 -0.75,-0.9,-0.9,-1.05,-1.1,-1.25,-1.3,-1.45,-1.5,-1.65,
 -1.7,-1.85,-1.9,-2.0,-2.0,-2.15,-2.1,-2.25,-2.2,-2.25,
 -2.1,-1.85,-1.4,-0.8,-0.2,0.2,0.45,0.3,0.58,0.35,
 0.52,0.28,0.6,0.35,0.5,0.25,0.55,0.3,0.62,0.38,
 0.5,0.7,0.42,0.62,0.35,0.58,0.3,0.55,0.25,0.48,
 0.3,0.5,0.22,0.45,0.2,0.42,0.15,0.38,0.1,0.35,
 0.12,0.3,0.05,0.25,0.0,0.2,-0.05,0.15,-0.1,0.1,
 -0.05,0.12,-0.1,0.05,-0.15,0.0];
const ecg44 = [2.4,3.1,3.5,3.2,2.6,2.0,1.4,0.8,0.3,-0.1,
 -0.4,-0.7,-0.8,-1.0,-1.05,-1.25,-1.3,-1.45,-1.5,-1.65,
 -1.7,-1.85,-1.9,-2.0,-2.05,-2.15,-2.2,-2.3,-2.25,-2.4,
 -2.35,-2.45,-2.3,-2.5,-2.4,-2.55,-2.35,-2.5,-2.3,-2.4,
 -2.25,-2.35,-2.2,-2.3,-2.1,-2.0,-1.7,-1.3,-0.8,-0.3,
 0.05,0.3,0.2,0.45,0.3,0.5,0.35,0.55,0.4,0.6,
 0.45,0.62,0.4,0.58,0.45,0.65,0.42,0.6,0.38,0.55,
 0.4,0.6,0.35,0.55,0.3,0.5,0.28,0.45,0.25,0.42,
 0.22,0.4,0.18,0.35,0.15,0.3,0.1,0.25,0.05,0.2,
 0.0,0.15,-0.05,0.1,-0.1,0.05];
const ecg45 = [-0.3,0.4,1.2,1.9,2.3,2.1,1.6,1.0,0.5,0.1,
 -0.2,-0.45,-0.4,-0.65,-0.6,-0.85,-0.8,-1.0,-0.95,-1.15,
 -1.1,-1.3,-1.25,-1.45,-1.4,-1.6,-1.55,-1.75,-1.7,-1.85,
 -1.8,-1.9,-1.6,-1.1,-0.5,0.0,0.3,0.2,0.4,0.25,
 0.38,0.2,0.35,0.15,0.3,0.12,0.28,0.05,0.25,0.1,
 0.3,0.08,0.25,0.02,0.2,0.05,0.22,-0.02,0.18,0.0,
 0.15,-0.05,0.2,-0.02,0.12,-0.1,0.1,-0.05,0.15,-0.08,
 0.1,-0.1,0.05,-0.15,0.08,-0.12,0.02,-0.2,0.0,-0.15,
 -0.05,-0.25,-0.1,-0.3,-0.15,-0.35,-0.2,-0.4,-0.25,-0.45,
 -0.3,-0.5,-0.35,-0.55,-0.4,-0.6];
const ecg46 = [2.2,1.6,0.7,-0.3,-1.0,-1.3,-1.15,-1.45,-1.3,-1.6,
 -1.45,-1.5,-1.35,-1.6,-1.45,-1.7,-1.55,-1.8,-1.65,-1.9,
 -1.75,-2.0,-1.85,-2.1,-1.95,-2.2,-2.05,-2.3,-2.15,-2.35,
 -2.25,-2.4,-2.3,-2.35,-2.1,-1.6,-0.9,-0.2,0.3,0.5,
 0.35,0.52,0.3,0.48,0.25,0.45,0.28,0.5,0.3,0.42,
 0.22,0.4,0.25,0.45,0.2,0.38,0.15,0.35,0.2,0.42,
 0.25,0.45,0.3,0.5,0.28,0.48,0.32,0.52,0.3,0.45,
 0.28,0.42,0.22,0.4,0.18,0.35,0.15,0.3,0.12,0.28,
 0.1,0.25,0.05,0.2,0.0,0.15,-0.05,-0.2,0.3,1.6,
 2.6,3.1,2.2,0.6,-0.9,-1.4];
const ecg47 = [2.7,3.3,3.0,2.3,1.6,0.9,0.3,-0.2,-0.55,-0.8,
 -0.95,-1.15,-1.1,-1.3,-1.3,-1.5,-1.45,-1.65,-1.6,-1.8,
 -1.75,-1.95,-1.9,-2.1,-2.05,-2.25,-2.2,-2.4,-2.35,-2.1,
 -1.5,-0.7,0.0,0.4,0.55,0.45,0.6,0.4,0.55,0.35,
 0.5,0.32,0.48,0.3,0.45,0.28,0.42,0.25,0.4,0.22,
 0.38,0.2,0.42,0.25,0.4,0.22,0.45,0.28,0.42,0.25,
 0.48,0.3,0.5,0.32,0.52,0.35,0.55,0.38,0.5,0.35,
 0.52,0.38,0.55,0.4,0.58,0.42,0.55,0.38,0.52,0.35,
 0.48,0.32,0.45,0.3,0.42,0.28,0.4,0.25,0.38,0.22,
 0.35,0.2,0.32,0.18,0.3,0.15];
const ecg48 = [3.0,3.3,2.9,2.5,2.0,1.6,1.2,0.85,0.55,0.3,
 0.1,-0.1,-0.15,-0.3,-0.3,-0.45,-0.5,-0.6,-0.65,-0.8,
 -0.8,-0.95,-1.0,-1.15,-1.2,-1.35,-1.4,-1.55,-1.6,-1.75,
 -1.75,-1.9,-1.9,-2.0,-2.0,-2.1,-2.05,-2.15,-2.1,-2.2,
 -2.1,-2.05,-1.7,-1.2,-0.6,-0.1,0.25,0.45,0.35,0.55,
 0.42,0.6,0.45,0.62,0.5,0.58,0.45,0.6,0.48,0.55,
 0.42,0.58,0.45,0.6,0.5,0.55,0.42,0.58,0.45,0.52,
 0.4,0.55,0.42,0.58,0.45,0.5,0.38,0.52,0.4,0.48,
 0.35,0.5,0.38,0.45,0.32,0.42,0.3,0.4,0.28,0.38,
 0.25,0.35,0.22,0.32,0.2,0.3];
const ecg49 = [0.2,1.0,1.8,2.4,2.7,2.5,2.0,1.4,0.8,0.3,
 -0.1,-0.4,-0.6,-0.75,-0.9,-1.0,-1.1,-1.2,-1.3,-1.4,
 -1.45,-1.55,-1.6,-1.7,-1.75,-1.85,-1.9,-2.0,-2.05,-2.1,
 -2.15,-2.2,-2.25,-2.3,-2.2,-2.1,-1.8,-1.2,-0.5,0.0,
 0.3,0.15,0.38,0.2,0.42,0.25,0.35,0.1,0.3,0.05,
 0.25,0.0,0.22,-0.05,0.2,0.02,0.18,-0.08,0.15,-0.1,
 0.12,-0.12,0.1,-0.08,0.15,-0.05,0.2,0.0,0.25,0.05,
 0.28,0.1,0.3,0.12,0.25,0.08,0.22,0.05,0.2,0.02,
 0.15,-0.05,0.1,-0.1,0.05,-0.15,0.0,-0.2,-0.1,0.2,
 1.2,2.2,1.8,0.2,-1.0,-1.4];
const ecg50 = [2.1,2.8,3.1,2.7,2.1,1.4,0.8,0.3,-0.1,-0.4,
 -0.5,-0.55,-0.6,-0.7,-0.7,-0.8,-0.85,-0.9,-0.95,-1.05,
 -1.05,-1.15,-1.2,-1.3,-1.35,-1.45,-1.55,-1.6,-1.7,-1.8,
 -2.2,-2.25,-2.2,-2.3,-2.25,-2.35,-2.3,-2.35,-2.25,-2.3,
 -2.2,-2.15,-2.0,-1.8,-1.4,-0.9,-0.4,0.0,0.25,0.4,
 0.3,0.45,0.28,0.4,0.22,0.38,0.25,0.42,0.3,0.45,
 0.32,0.48,0.35,0.5,0.38,0.45,0.3,0.42,0.28,0.4,
 0.25,0.38,0.22,0.35,0.2,0.32,0.18,0.3,0.15,0.28,
 0.12,0.25,0.1,0.2,0.05,0.15,-0.05,-0.25,0.2,1.3,
 2.5,3.15,3.0,1.5,-0.4,-1.3];
const ecg51 = [3.2,3.6,3.0,2.3,1.6,1.0,0.5,0.1,-0.25,-0.5,
 -0.7,-0.95,-0.9,-1.15,-1.05,-1.3,-1.2,-1.45,-1.35,-1.6,
 -1.5,-1.7,-1.65,-1.85,-1.8,-2.0,-1.95,-2.1,-2.05,-2.2,
 -2.15,-2.3,-2.25,-2.35,-2.2,-2.0,-1.5,-0.8,-0.1,0.45,
 0.7,0.9,0.75,1.0,0.8,0.7,0.95,0.75,1.1,0.85,
 0.7,0.92,0.78,0.65,0.9,0.72,1.0,0.8,0.68,0.88,
 0.75,0.62,0.85,0.7,0.95,0.75,0.6,0.82,0.7,0.58,
 0.8,0.65,0.55,0.75,0.6,0.5,0.72,0.58,0.45,0.65,
 0.55,0.42,0.6,0.48,0.35,0.52,0.4,0.3,0.45,0.35,
 0.25,0.4,0.3,0.2,0.35,0.25];
const ecg52 = [1.0,1.7,2.4,2.9,3.2,2.9,2.3,1.7,1.1,0.6,
 0.2,-0.05,-0.1,-0.3,-0.3,-0.45,-0.5,-0.6,-0.6,-0.75,
 -0.8,-0.95,-1.0,-1.15,-1.2,-1.35,-1.4,-1.55,-1.6,-1.75,
 -1.8,-1.95,-2.0,-2.1,-2.1,-2.2,-2.1,-2.0,-1.6,-1.0,
 -0.3,0.3,0.6,0.95,0.6,1.2,0.7,0.85,1.3,0.75,
 0.9,0.6,1.15,0.7,0.85,0.55,1.0,0.65,0.8,1.25,
 0.7,0.55,0.85,0.6,0.75,0.5,0.8,0.58,0.7,0.45,
 0.65,0.5,0.72,0.45,0.6,0.4,0.55,0.35,0.5,0.3,
 0.45,0.25,0.4,0.2,0.35,0.15,0.3,0.1,0.25,0.05,
 0.2,0.0,0.15,-0.05,0.1,-0.1];
const ecg53 = [1.9,2.6,3.0,2.7,2.1,1.4,0.8,0.3,-0.1,-0.4,
 -0.6,-0.85,-0.8,-1.05,-1.0,-1.25,-1.15,-1.4,-1.3,-1.55,
 -1.45,-1.7,-1.6,-1.85,-1.75,-2.0,-1.9,-2.15,-2.05,-2.25,
 -2.2,-2.1,-1.7,-1.0,-0.3,0.3,0.6,0.5,0.7,0.55,
 0.72,0.58,0.8,0.6,0.75,0.55,0.82,0.6,0.78,0.65,
 0.85,0.7,0.9,0.75,1.0,1.3,0.85,0.95,1.25,0.9,
 1.0,0.85,1.05,0.9,1.1,0.95,0.85,1.0,0.9,0.8,
 0.95,0.8,0.9,0.75,0.85,0.7,0.8,0.65,0.75,0.6,
 0.7,0.55,0.65,0.5,0.6,0.45,0.3,0.05,0.4,1.9,
 2.9,2.8,1.3,-0.2,-1.2,-1.6];

const xTicks = [0, 20, 40, 60, 80];
const yTicks = [-3, -2, -1, 0, 1, 2, 3, 4];

const allSeries = [ecg00, ecg01, ecg02, ecg03, ecg04, ecg05, ecg06, ecg07, ecg08, ecg09,
  ecg10, ecg11, ecg12, ecg13, ecg14, ecg15, ecg16, ecg17, ecg18, ecg19,
  ecg20, ecg21, ecg22, ecg23, ecg24, ecg25, ecg26, ecg27, ecg28, ecg29,
  ecg30, ecg31, ecg32, ecg33, ecg34, ecg35, ecg36, ecg37, ecg38, ecg39,
  ecg40, ecg41, ecg42, ecg43, ecg44, ecg45, ecg46, ecg47, ecg48, ecg49,
  ecg50, ecg51, ecg52, ecg53];

const tab10 = ['#1f77b4', '#ff7f0e', '#2ca02c', '#d62728', '#9467bd',
  '#8c564b', '#e377c2', '#7f7f7f', '#bcbd22', '#17becf'];

const traces = allSeries.map((ys) => ({
  type: 'scatter', mode: 'lines',
  x: timestamps.slice(0, ys.length), y: ys,
  line: {width: 2},
  hoverinfo: 'skip'
}));

const fontFam = '"DejaVu Serif", serif';
const layout = {
  width: 547, height: 391,
  margin: {l: 58, r: 0, t: 29, b: 44, pad: 0},
  paper_bgcolor: '#ffffff', plot_bgcolor: '#ffffff',
  showlegend: false,
  colorway: tab10,
  font: {family: fontFam, size: 12.5, color: '#262626'},
  title: {text: 'ECG', font: {family: fontFam, size: 15, color: '#111'},
    x: 0.5, xref: 'paper', xanchor: 'center',
    y: 1 - 14 / 391, yref: 'container', yanchor: 'middle'},
  xaxis: {
    range: [0, 94.55], tickvals: xTicks, ticktext: xTicks.map(String),
    showgrid: true, gridcolor: '#b0b0b0', gridwidth: 1,
    zeroline: false, showline: true, linecolor: '#222', linewidth: 1, mirror: true,
    ticks: 'outside', ticklen: 5, tickwidth: 1, tickcolor: '#222',
    title: {text: 'timestamp', standoff: 9, font: {family: fontFam, size: 12.5, color: '#262626'}}
  },
  yaxis: {
    range: [-3.356, 4.555], tickvals: yTicks,
    showgrid: true, gridcolor: '#b0b0b0', gridwidth: 1,
    zeroline: false, showline: true, linecolor: '#222', linewidth: 1, mirror: false,
    ticks: 'outside', ticklen: 5, tickwidth: 1, tickcolor: '#222',
    title: {text: 'potential difference (mV)', standoff: 8, font: {family: fontFam, size: 12.5, color: '#262626'}}
  }
};

Plotly.newPlot('chart', traces, layout, {staticPlot: true, displayModeBar: false});
</script>
</body>
</html>
